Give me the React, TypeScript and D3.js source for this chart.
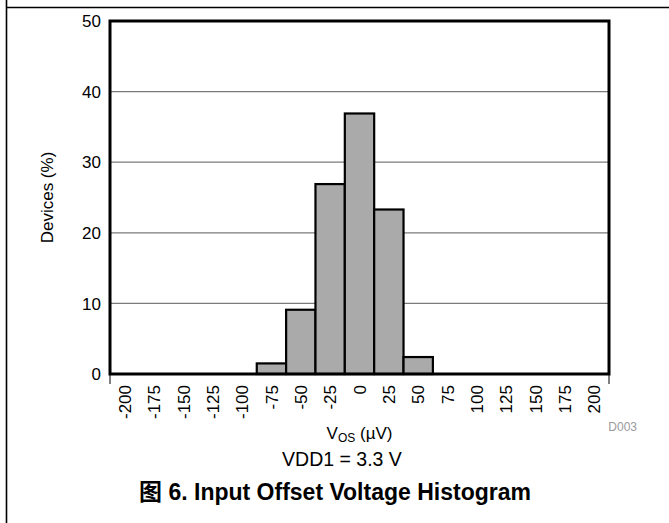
import React from "react";
import { scaleBand, scaleLinear } from "d3";

// x tick labels (µV), one band each
const xLabels = [
  "-200", "-175", "-150", "-125", "-100", "-75", "-50", "-25", "0",
  "25", "50", "75", "100", "125", "150", "175", "200",
];
// histogram bins that have devices
const bins = ["-75", "-50", "-25", "0", "25", "50"];
const devices = [1.5, 9.1, 26.9, 36.9, 23.3, 2.4];
const yTicks = [0, 10, 20, 30, 40, 50];

const FONT = "'Liberation Sans', Arial, Helvetica, sans-serif";

const App = () => {
  const W = 669;
  const H = 523;
  const plot = { left: 110, right: 609, top: 21, bottom: 374 };

  // x 스케일: band per label
  const x = scaleBand<string>()
    .domain(xLabels)
    .range([plot.left, plot.right])
    .padding(0);
  const y = scaleLinear().domain([0, 50]).range([plot.bottom, plot.top]);

  const cx = (plot.left + plot.right) / 2;
  const cy = (plot.top + plot.bottom) / 2;

  return (
    <svg
      width={W}
      height={H}
      style={{ position: "absolute", left: 0, top: 0, background: "#fff" }}
      fontFamily={FONT}
    >
      {/* page frame */}
      <line x1={6.5} y1={0} x2={6.5} y2={H} stroke="#000" strokeWidth={1.6} />
      <line x1={6} y1={7.5} x2={W} y2={7.5} stroke="#000" strokeWidth={1.6} />

      {/* grid */}
      {yTicks
        .filter((t) => t > 0 && t < 50)
        .map((t) => (
          <line
            key={t}
            x1={plot.left}
            x2={plot.right}
            y1={y(t)}
            y2={y(t)}
            stroke="#7a7a7a"
            strokeWidth={1.3}
          />
        ))}

      {/* bars */}
      {bins.map((b, i) => (
        <rect
          key={b}
          x={x(b)!}
          y={y(devices[i])}
          width={x.bandwidth()}
          height={y(0) - y(devices[i])}
          fill="#aaaaaa"
          stroke="#000"
          strokeWidth={2.2}
        />
      ))}

      {/* plot frame */}
      <rect
        x={plot.left}
        y={plot.top}
        width={plot.right - plot.left}
        height={plot.bottom - plot.top}
        fill="none"
        stroke="#000"
        strokeWidth={3}
      />
      <line x1={plot.left} x2={plot.left} y1={plot.bottom} y2={plot.bottom + 10} stroke="#000" strokeWidth={1} />
      <line x1={plot.right} x2={plot.right} y1={plot.bottom} y2={plot.bottom + 10} stroke="#000" strokeWidth={1} />

      {/* y tick labels */}
      {yTicks.map((t) => (
        <text
          key={t}
          x={plot.left - 9}
          y={y(t)}
          dy="0.36em"
          textAnchor="end"
          fontSize={17}
          fill="#000"
        >
          {t}
        </text>
      ))}

      {/* x tick labels, rotated */}
      {xLabels.map((l) => (
        <text
          key={l}
          transform={`translate(${x(l)! + x.bandwidth() / 2},${plot.bottom + 11}) rotate(-90)`}
          dy="0.36em"
          textAnchor="end"
          fontSize={17}
          fill="#000"
        >
          {l}
        </text>
      ))}

      {/* axis titles */}
      <text
        transform={`translate(47,${cy}) rotate(-90)`}
        dy="0.36em"
        textAnchor="middle"
        fontSize={17}
        fill="#000"
      >
        Devices (%)
      </text>
      <text x={cx} y={439} textAnchor="middle" fontSize={17} fill="#000">
        V<tspan fontSize={12} dy={3}>OS</tspan>
        <tspan dy={-3}> (µV)</tspan>
      </text>
      <text x={342} y={466} textAnchor="middle" fontSize={19.5} fill="#000">
        VDD1 = 3.3 V
      </text>
      <text x={637} y={431} textAnchor="end" fontSize={12} fill="#9a9a9a">
        D003
      </text>

      {/* caption */}
      <text x={335} y={500} textAnchor="middle" fontSize={23} fontWeight="bold" fill="#000">
        <tspan fontFamily="'Noto Sans CJK SC', sans-serif">图</tspan> 6. Input Offset Voltage Histogram
      </text>
    </svg>
  );
};

export default App;
